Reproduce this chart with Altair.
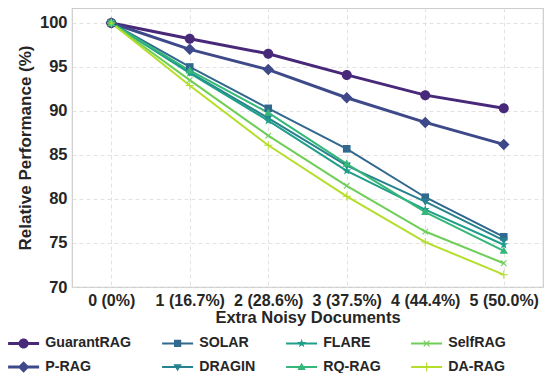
import math
import altair as alt
import pandas as pd

# ---------------- data ----------------
x_labels = ["0 (0%)", "1 (16.7%)", "2 (28.6%)", "3 (37.5%)", "4 (44.4%)", "5 (50.0%)"]

guarantrag = [100, 98.2, 96.5, 94.1, 91.8, 90.3]
p_rag = [100, 97.0, 94.7, 91.5, 88.7, 86.2]
solar = [100, 95.0, 90.3, 85.7, 80.2, 75.7]
dragin = [100, 94.4, 89.2, 83.8, 79.7, 75.3]
flare = [100, 94.3, 88.9, 83.2, 78.8, 74.8]
rq_rag = [100, 94.6, 89.8, 84.0, 78.5, 74.1]
selfrag = [100, 93.5, 87.2, 81.5, 76.3, 72.7]
da_rag = [100, 92.9, 86.1, 80.3, 75.1, 71.4]

methods = ["GuarantRAG", "P-RAG", "SOLAR", "DRAGIN", "FLARE", "RQ-RAG", "SelfRAG", "DA-RAG"]
series = [guarantrag, p_rag, solar, dragin, flare, rq_rag, selfrag, da_rag]
colors = ["#482878", "#3e4989", "#31688e", "#26828e", "#1f9e89", "#35b779", "#6ece58", "#b5de2b"]
markers = ["circle", "diamond", "square", "tri_down", "star", "tri_up", "x", "plus"]

rows = []
for m, vals in zip(methods, series):
    for xl, v in zip(x_labels, vals):
        rows.append({"method": m, "docs": xl, "value": v})
df = pd.DataFrame(rows)

marker_of = dict(zip(methods, markers))


# ---------------- symbol paths ----------------
def poly(pts):
    return "M" + "L".join(f"{x:.3f},{y:.3f}" for x, y in pts) + "Z"


def circle(cx, r):
    return (f"M{cx + r:.3f},0A{r:.3f},{r:.3f} 0 1,1 {cx - r:.3f},0"
            f"A{r:.3f},{r:.3f} 0 1,1 {cx + r:.3f},0Z")


def arm(cx, ux, uy, L, w):
    vx, vy = -uy, ux
    return poly([
        (cx - L * ux - w * vx, -L * uy - w * vy),
        (cx + L * ux - w * vx, L * uy - w * vy),
        (cx + L * ux + w * vx, L * uy + w * vy),
        (cx - L * ux + w * vx, -L * uy + w * vy),
    ])


def marker_path(kind, cx=0.0, s=1.0):
    if kind == "circle":
        return circle(cx, 1.0 * s)
    if kind == "diamond":
        d = 1.15 * s
        return poly([(cx, -d), (cx + d, 0), (cx, d), (cx - d, 0)])
    if kind == "square":
        a = 0.85 * s
        return poly([(cx - a, -a), (cx + a, -a), (cx + a, a), (cx - a, a)])
    if kind == "tri_down":
        return poly([(cx - s, -0.7 * s), (cx + s, -0.7 * s), (cx, 1.0 * s)])
    if kind == "tri_up":
        return poly([(cx, -1.0 * s), (cx + s, 0.7 * s), (cx - s, 0.7 * s)])
    if kind == "star":
        pts = []
        for k in range(10):
            ang = math.radians(-90 + 36 * k)
            r = 1.1 * s if k % 2 == 0 else 0.45 * s
            pts.append((cx + r * math.cos(ang), r * math.sin(ang)))
        return poly(pts)
    if kind == "x":
        c = 0.70710678
        return arm(cx, c, c, 0.95 * s, 0.12) + arm(cx, c, -c, 0.95 * s, 0.12)
    if kind == "plus":
        return arm(cx, 0, 1, 1.0 * s, 0.12) + arm(cx, 1, 0, 1.0 * s, 0.12)
    return circle(cx, s)


def legend_path(m):
    big = m in ("GuarantRAG", "P-RAG")
    h = 0.3 if big else 0.2
    line = poly([(-1.0, -h), (5.2, -h), (5.2, h), (-1.0, h)])
    return line + marker_path(marker_of[m], cx=2.1, s=1.0 if big else 0.85)


point_shapes = [marker_path(marker_of[m]) for m in methods]
legend_shapes = [legend_path(m) for m in methods]
point_sizes = [100 if m in ("GuarantRAG", "P-RAG") else (80 if m == "SOLAR" else 70) for m in methods]
line_widths = [3 if m in ("GuarantRAG", "P-RAG") else 2 for m in methods]

FONT = "Liberation Sans"
TXT = "#262626"

x_enc = alt.X(
    "docs:N",
    sort=x_labels,
    scale=alt.Scale(type="point", padding=0.5),
    axis=alt.Axis(
        title="Extra Noisy Documents",
        labelAngle=0,
        labelFontSize=16,
        labelFontWeight="bold",
        labelFont=FONT,
        labelColor=TXT,
        labelPadding=5,
        titleFontSize=16.5,
        titleFontWeight="bold",
        titleFont=FONT,
        titleColor=TXT,
        titlePadding=1,
        tickSize=0,
        domain=False,
        grid=True,
        gridDash=[4, 3],
        gridColor="#dadada",
        gridWidth=0.8,
    ),
)
y_enc = alt.Y(
    "value:Q",
    scale=alt.Scale(domain=[70, 101.7], nice=False, zero=False),
    axis=alt.Axis(
        title="Relative Performance (%)",
        values=[70, 75, 80, 85, 90, 95, 100],
        labelFontSize=16.5,
        labelFontWeight="bold",
        labelFont=FONT,
        labelColor=TXT,
        labelPadding=5,
        titleFontSize=17,
        titleFontWeight="bold",
        titleFont=FONT,
        titleColor=TXT,
        titlePadding=5,
        tickSize=0,
        domain=False,
        grid=True,
        gridDash=[4, 3],
        gridColor="#dadada",
        gridWidth=0.8,
    ),
)

color_scale = alt.Scale(domain=methods, range=colors)

lines = alt.Chart(df).mark_line().encode(
    x=x_enc,
    y=y_enc,
    color=alt.Color("method:N", scale=color_scale, legend=None),
    strokeWidth=alt.StrokeWidth(
        "method:N", scale=alt.Scale(type="ordinal", domain=methods, range=line_widths), legend=None
    ),
)

points = alt.Chart(df).mark_point(filled=True, opacity=1).encode(
    x=x_enc,
    y=y_enc,
    color=alt.Color("method:N", scale=color_scale, legend=None),
    shape=alt.Shape("method:N", scale=alt.Scale(domain=methods, range=point_shapes), legend=None),
    size=alt.Size(
        "method:N", scale=alt.Scale(type="ordinal", domain=methods, range=point_sizes), legend=None
    ),
)

legend_layer = alt.Chart(df).transform_filter("false").mark_point(filled=True, opacity=1).encode(
    x=x_enc,
    y=y_enc,
    color=alt.Color(
        "method:N",
        scale=color_scale,
        legend=alt.Legend(
            title=None,
            orient="none",
            legendX=-66,
            legendY=328,
            direction="vertical",
            columns=4,
            columnPadding=28,
            rowPadding=9,
            labelFont=FONT,
            labelFontSize=14.2,
            labelFontWeight="bold",
            labelColor=TXT,
            labelOffset=25,
            symbolSize=100,
            symbolOpacity=1,
            symbolStrokeWidth=0,
        ),
    ),
    shape=alt.Shape("method:N", scale=alt.Scale(domain=methods, range=legend_shapes)),
)

chart = (
    alt.layer(lines, points, legend_layer)
    .resolve_scale(color="independent", shape="independent", size="independent", strokeWidth="independent")
    .properties(
        width=471,
        height=279,
        autosize=alt.AutoSizeParams(type="none"),
        padding={"left": 64, "top": 0, "right": 8, "bottom": 86},
        background="white",
    )
    .configure_view(stroke="#cccccc", strokeWidth=1.2)
)

chart.save("out.html", embed_options={"renderer": "svg", "actions": False})
